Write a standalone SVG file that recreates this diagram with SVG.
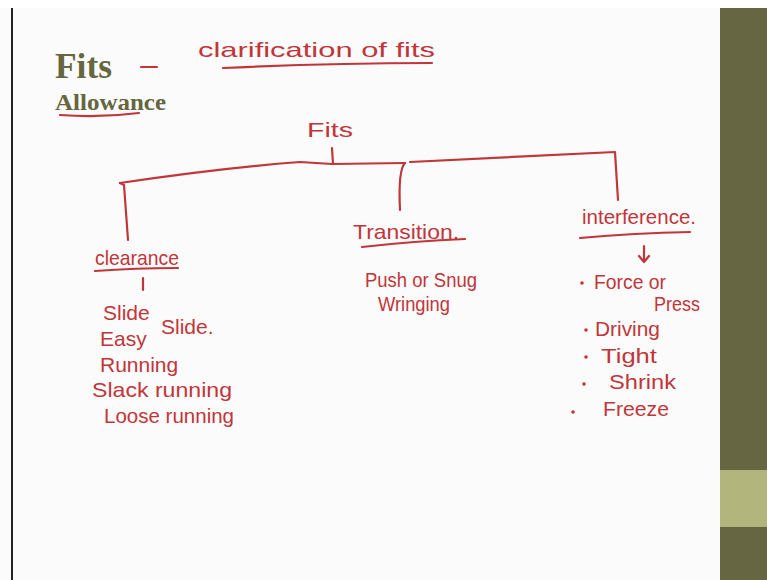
<svg xmlns="http://www.w3.org/2000/svg" width="767" height="580" viewBox="0 0 767 580">
<style>
.h{font-family:"Liberation Sans","DejaVu Sans",sans-serif;fill:#c0363a;font-size:21px}
.t{font-family:"Liberation Serif","DejaVu Serif",serif;fill:#66663f;font-weight:bold}
.ln{fill:none;stroke:#c0363a;stroke-width:2.2;stroke-linecap:round;stroke-linejoin:round}
</style>
<rect width="767" height="580" fill="#fbfbfb"/>
<rect x="0" y="0" width="767" height="8" fill="#ffffff"/>
<rect x="11" y="8" width="2" height="572" fill="#222"/>
<rect x="720" y="8" width="47" height="572" fill="#676643"/>
<rect x="720" y="470" width="47" height="57" fill="#b2b67c"/>

<g id="title">
<text class="t" x="55" y="78" font-size="36" textLength="57" lengthAdjust="spacingAndGlyphs">Fits</text>
<text class="t" x="55" y="110" font-size="23" textLength="111" lengthAdjust="spacingAndGlyphs">Allowance</text>
<path class="ln" d="M60 115 Q100 118 139 113"/>
<path class="ln" d="M141 67 L157 67"/>
<text class="h" x="198" y="57" textLength="237" lengthAdjust="spacingAndGlyphs">clarification of fits</text>
<path class="ln" d="M223 68 Q330 63 432 63"/>
</g>

<g id="root">
<text class="h" x="307" y="137" font-size="25" textLength="46" lengthAdjust="spacingAndGlyphs">Fits</text>
</g>

<g id="connectors">
<path class="ln" d="M332 148 L333 164"/>
<path class="ln" d="M120 183 Q220 168 300 162 L332 164 L405 163"/>
<path class="ln" d="M410 162 L615 152 L618 200"/>
<path class="ln" d="M120 183 L124 185 L128 240"/>
<path class="ln" d="M405 163 Q398 170 400 210"/>
<path class="ln" d="M143 278 L143 290"/>
<path class="ln" d="M644 246 L644 261 M639 256 L644 262 L649 256"/>
</g>

<g id="clearance">
<text class="h" x="95" y="265" textLength="84" lengthAdjust="spacingAndGlyphs">clearance</text>
<path class="ln" d="M95 271 Q135 268 178 268"/>
<text class="h" x="103" y="320">Slide</text>
<text class="h" x="100" y="346">Easy</text>
<text class="h" x="161" y="334">Slide.</text>
<text class="h" x="100" y="372">Running</text>
<text class="h" x="92" y="397" textLength="140" lengthAdjust="spacingAndGlyphs">Slack running</text>
<text class="h" x="104" y="423" textLength="130" lengthAdjust="spacingAndGlyphs">Loose running</text>
</g>

<g id="transition">
<text class="h" x="353" y="239" textLength="106" lengthAdjust="spacingAndGlyphs">Transition.</text>
<path class="ln" d="M362 247 Q415 241 465 239"/>
<text class="h" x="365" y="287" textLength="112" lengthAdjust="spacingAndGlyphs">Push or Snug</text>
<text class="h" x="378" y="311" textLength="72" lengthAdjust="spacingAndGlyphs">Wringing</text>
</g>

<g id="interference">
<text class="h" x="582" y="224" textLength="114" lengthAdjust="spacingAndGlyphs">interference.</text>
<path class="ln" d="M580 238 Q635 233 690 232"/>
<circle cx="582" cy="283" r="1.8" fill="#c0363a"/>
<text class="h" x="594" y="289" textLength="72" lengthAdjust="spacingAndGlyphs">Force or</text>
<text class="h" x="654" y="311" textLength="46" lengthAdjust="spacingAndGlyphs">Press</text>
<circle cx="586" cy="330" r="1.8" fill="#c0363a"/>
<text class="h" x="595" y="336" textLength="65" lengthAdjust="spacingAndGlyphs">Driving</text>
<circle cx="586" cy="357" r="1.8" fill="#c0363a"/>
<text class="h" x="601" y="363" textLength="56" lengthAdjust="spacingAndGlyphs">Tight</text>
<circle cx="584" cy="384" r="1.8" fill="#c0363a"/>
<text class="h" x="609" y="389" textLength="67" lengthAdjust="spacingAndGlyphs">Shrink</text>
<circle cx="573" cy="412" r="1.8" fill="#c0363a"/>
<text class="h" x="603" y="416" textLength="66" lengthAdjust="spacingAndGlyphs">Freeze</text>
</g>
</svg>
